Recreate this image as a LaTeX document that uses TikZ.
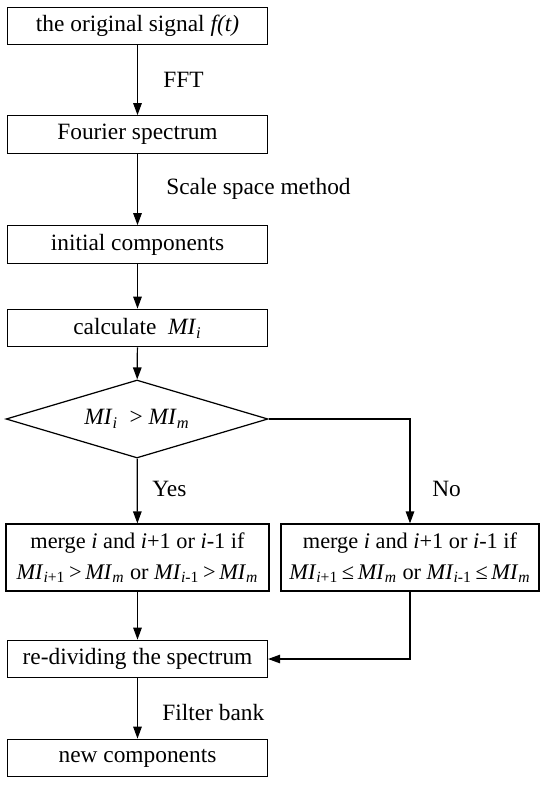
\documentclass[tikz,border=0pt]{standalone}
\usepackage{fontspec}
\setmainfont{Liberation Serif}
\usetikzlibrary{shapes.geometric,arrows.meta}
\newcommand{\MIsub}[1]{\textit{MI}\textsubscript{#1}}
\tikzset{
  procbox/.style={draw, line width=0.7pt, minimum width=5.2cm, minimum height=0.75cm, inner sep=0pt},
  flow/.style={line width=0.7pt, -{Triangle[length=0.24cm, width=0.17cm]}},
  steplabel/.style={anchor=west, inner sep=0pt}
}
\begin{document}
\begin{tikzpicture}[x=0.02cm, y=-0.02cm, font=\fontsize{13.3}{17.5}\selectfont]
  \useasboundingbox (0,0) rectangle (550,787);
  \node[procbox] (signal) at (137.5,26) {the original signal \textit{f(t)}};
  \node[procbox] (spectrum) at (137.5,134.5) {Fourier spectrum};
  \node[procbox] (initial) at (137.5,244.5) {initial components};
  \node[procbox] (calc) at (137.5,328) {calculate \ \MIsub{\textit{i}}};
  \node[draw, line width=0.7pt, shape=diamond, aspect=3.36, minimum width=5.24cm, minimum height=1.56cm, inner sep=0pt] (test) at (137,419) {\MIsub{\textit{i}} \ > \MIsub{\textit{m}}};
  \node[procbox, minimum width=5.26cm, minimum height=1.34cm, align=center, font=\fontsize{12.7}{17.5}\selectfont] (mergeyes) at (137.5,557.5)
    {merge \textit{i} and \textit{i}+1 or \textit{i}-1 if\\ \MIsub{\textit{i}+1}\,>\,\MIsub{\textit{m}} or \MIsub{\textit{i}-1}\,>\,\MIsub{\textit{m}}};
  \node[procbox, minimum width=5.16cm, minimum height=1.34cm, align=center, font=\fontsize{12.7}{17.5}\selectfont] (mergeno) at (410,557.5)
    {merge \textit{i} and \textit{i}+1 or \textit{i}-1 if\\ \MIsub{\textit{i}+1}\,≤\,\MIsub{\textit{m}} or \MIsub{\textit{i}-1}\,≤\,\MIsub{\textit{m}}};
  \node[procbox] (redivide) at (137.5,659) {re-dividing the spectrum};
  \node[procbox] (newcomp) at (137.5,758) {new components};
  % connectors
  \draw[flow] (signal) -- (spectrum);
  \draw[flow] (spectrum) -- (initial);
  \draw[flow] (initial) -- (calc);
  \draw[flow] (calc) -- (test);
  \draw[flow] (test) -- (mergeyes);
  \draw[flow] (test.east) -| (mergeno.north);
  \draw[flow] (mergeyes) -- (redivide);
  \draw[flow] (mergeno.south) |- (redivide.east);
  \draw[flow] (redivide) -- (newcomp);
  % labels
  \node[steplabel] (fft) at (163,80) {FFT};
  \node[steplabel] (scale) at (166,189) {Scale space method};
  \node[steplabel] (yes) at (152,489) {Yes};
  \node[steplabel] (no) at (432,489) {No};
  \node[steplabel] (filter) at (162,712) {Filter bank};
\end{tikzpicture}
\end{document}
